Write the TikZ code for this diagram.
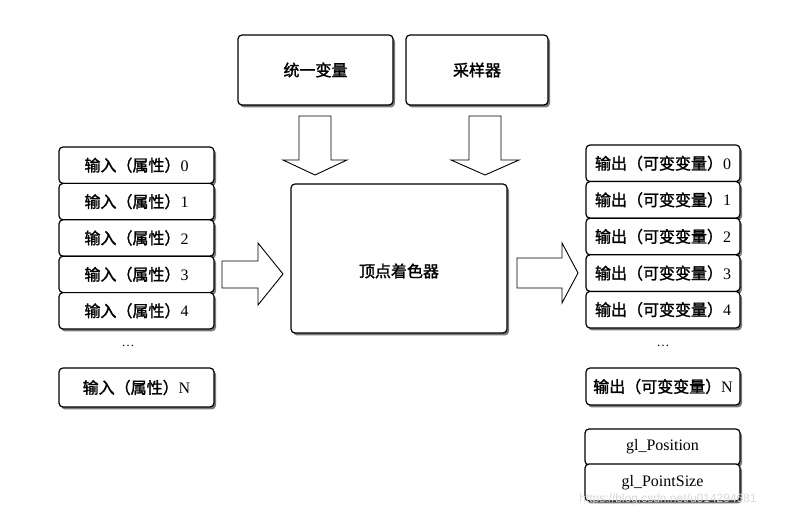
\documentclass[tikz,border=0pt]{standalone}
\usepackage{fontspec}
\setmainfont{Liberation Serif}
\newfontfamily\cjk[FakeBold=1.6]{Noto Sans CJK SC}
\newfontfamily\wmfont{Liberation Sans}
\usetikzlibrary{shadows}
\begin{document}
\begin{tikzpicture}[x=1pt,y=-1pt,
  box/.style={draw, line width=1.2pt, rounded corners=4pt, fill=white,
    drop shadow={shadow xshift=2pt, shadow yshift=-2.4pt, fill=black!70, opacity=0.75},
    inner sep=0pt, font=\fontsize{16}{18}\selectfont},
  lrow/.style={box, minimum width=155pt, minimum height=36.4pt},
  rrow/.style={box, minimum width=154pt, minimum height=36.6pt},
  barrow/.style={draw, line width=0.9pt, fill=white, line join=miter},
  lbl/.style={inner sep=0pt, font=\fontsize{16}{18}\selectfont}]
\useasboundingbox (0,0) rectangle (790,513);

% top boxes
\node[box, minimum width=155pt, minimum height=70pt] (uni) at (315.5,70) {\cjk 统一变量};
\node[box, minimum width=142pt, minimum height=70pt] (smp) at (477,70) {\cjk 采样器};

% vertex shader
\node[box, minimum width=216pt, minimum height=149pt] (vs) at (399,258.5) {};
\node[lbl] (vslabel) at (399,271) {\cjk 顶点着色器};

% left stack
\node[lrow] (in0) at (136.5,165.2) {{\cjk 输入（属性）}0};
\node[lrow] (in1) at (136.5,201.6) {{\cjk 输入（属性）}1};
\node[lrow] (in2) at (136.5,238.0) {{\cjk 输入（属性）}2};
\node[lrow] (in3) at (136.5,274.4) {{\cjk 输入（属性）}3};
\node[lrow] (in4) at (136.5,310.8) {{\cjk 输入（属性）}4};
\node[lbl] (indots) at (128,346) {\fontsize{13}{14}\selectfont …};
\node[lrow, minimum height=39pt] (inN) at (136.5,387.5) {{\cjk 输入（属性）}N};

% right stack
\node[rrow] (out0) at (663,163.3) {{\cjk 输出（可变变量）}0};
\node[rrow] (out1) at (663,199.9) {{\cjk 输出（可变变量）}1};
\node[rrow] (out2) at (663,236.5) {{\cjk 输出（可变变量）}2};
\node[rrow] (out3) at (663,273.1) {{\cjk 输出（可变变量）}3};
\node[rrow] (out4) at (663,309.7) {{\cjk 输出（可变变量）}4};
\node[lbl] (outdots) at (663,346) {\fontsize{13}{14}\selectfont …};
\node[rrow, minimum height=37pt] (outN) at (663,386.5) {{\cjk 输出（可变变量）}N};

% gl boxes
\node[box, minimum width=155pt, minimum height=36pt] (glpos) at (662.5,447) {gl\_Position};
\node[box, minimum width=155pt, minimum height=37pt] (glps) at (662.5,482.5) {gl\_PointSize};

% block arrows
% uniform -> vs
\draw[barrow] (299,116) -- (331,116) -- (331,160) -- (347,160) -- (315,175) -- (283,160) -- (299,160) -- cycle;
% sampler -> vs
\draw[barrow] (469,116) -- (501,116) -- (501,160) -- (519,160) -- (485,175) -- (451,160) -- (469,160) -- cycle;
% inputs -> vs
\draw[barrow] (222,261) -- (258,261) -- (258,243) -- (283,274) -- (258,305) -- (258,288) -- (222,288) -- cycle;
% vs -> outputs
\draw[barrow] (517,258) -- (562,258) -- (562,243) -- (578,273) -- (562,303) -- (562,288) -- (517,288) -- cycle;

% watermark
\node[inner sep=0pt, text=black!15, font=\wmfont\fontsize{12}{13}\selectfont] (wm) at (668,499) {https://blog.csdn.net/u014294681};
\end{tikzpicture}
\end{document}
